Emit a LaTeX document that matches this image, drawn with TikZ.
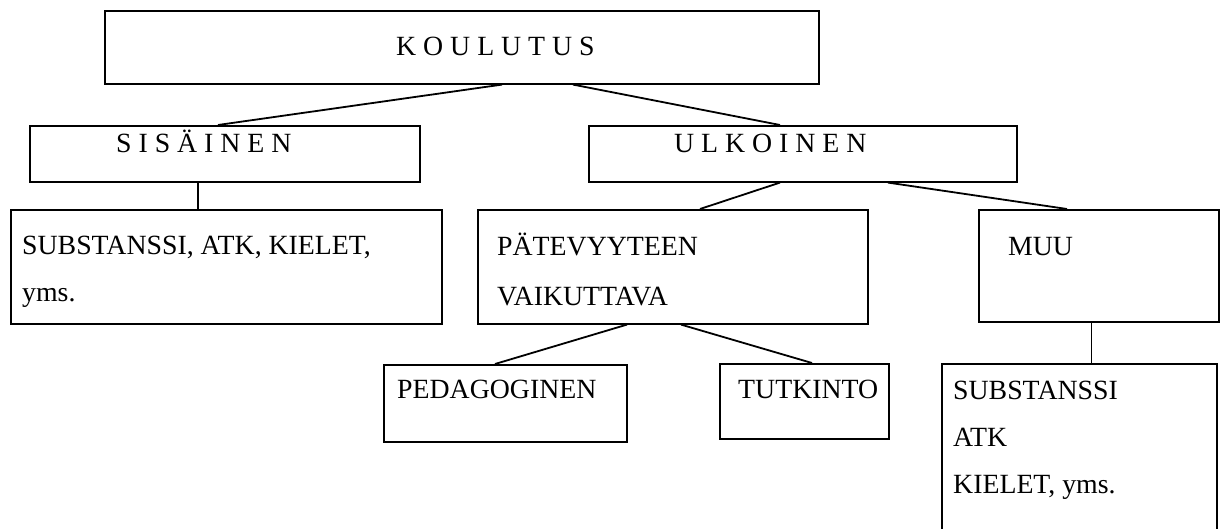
\documentclass[tikz,border=0pt]{standalone}
\usepackage{fontspec}
\setmainfont{Liberation Serif}
\usetikzlibrary{calc}
\begin{document}
\begin{tikzpicture}[x=1pt,y=-1pt,
  box/.style={draw=black, line width=1.6pt, rectangle, inner sep=0pt, anchor=north west},
  link/.style={draw=black, line width=1.8pt},
  txt/.style={inner sep=0pt, anchor=base west, font=\fontsize{27.8}{33}\selectfont}]
\useasboundingbox (0,0) rectangle (1221,529);
\clip (0,0) rectangle (1221,529);

% boxes
\node[box, minimum width=714pt, minimum height=73pt] (koulutus) at (104,10) {};
\node[box, minimum width=390pt, minimum height=56pt] (sisainen) at (29,125) {};
\node[box, minimum width=428pt, minimum height=56pt] (ulkoinen) at (588,125) {};
\node[box, minimum width=431pt, minimum height=114pt] (sisalto) at (10,209) {};
\node[box, minimum width=390pt, minimum height=114pt] (patev) at (477,209) {};
\node[box, minimum width=240pt, minimum height=112pt] (muu) at (978,209) {};
\node[box, minimum width=243pt, minimum height=77pt] (pedag) at (383,364) {};
\node[box, minimum width=169pt, minimum height=75pt] (tutk) at (719,363) {};
\node[box, minimum width=275pt, minimum height=180pt] (muusisalto) at (941,363) {};

% labels
\node[txt] (t1) at ([shift={(292,46)}]koulutus.north west) {K O U L U T U S};
\node[txt] (t2) at ([shift={(87,28)}]sisainen.north west) {S I S Ä I N E N};
\node[txt] (t3) at ([shift={(86,28)}]ulkoinen.north west) {U L K O I N E N};
\node[txt] (t4) at ([shift={(12,46)}]sisalto.north west) {SUBSTANSSI, ATK, KIELET,};
\node[txt] (t5) at ([shift={(12,93)}]sisalto.north west) {yms.};
\node[txt] (t6) at ([shift={(20,47)}]patev.north west) {PÄTEVYYTEEN};
\node[txt] (t7) at ([shift={(20,97)}]patev.north west) {VAIKUTTAVA};
\node[txt] (t8) at ([shift={(30,47)}]muu.north west) {MUU};
\node[txt] (t9) at ([shift={(14,34)}]pedag.north west) {PEDAGOGINEN};
\node[txt] (t10) at ([shift={(19,35)}]tutk.north west) {TUTKINTO};
\node[txt] (t11) at ([shift={(12,36)}]muusisalto.north west) {SUBSTANSSI};
\node[txt] (t12) at ([shift={(12,83)}]muusisalto.north west) {ATK};
\node[txt] (t13) at ([shift={(12,130)}]muusisalto.north west) {KIELET, yms.};

% connectors
\draw[link] ([xshift=398pt]koulutus.south west) -- ([xshift=189pt]sisainen.north west);
\draw[link] ([xshift=469pt]koulutus.south west) -- ([xshift=192pt]ulkoinen.north west);
\draw[link] ([xshift=169pt]sisainen.south west) -- ([xshift=188pt]sisalto.north west);
\draw[link] ([xshift=192pt]ulkoinen.south west) -- ([xshift=223pt]patev.north west);
\draw[link] ([xshift=300pt]ulkoinen.south west) -- ([xshift=89pt]muu.north west);
\draw[link] ([xshift=150pt]patev.south west) -- ([xshift=112pt]pedag.north west);
\draw[link] ([xshift=204pt]patev.south west) -- ([xshift=93pt]tutk.north west);
\draw[link, line width=1pt] ([xshift=113pt]muu.south west) -- ([xshift=150pt]muusisalto.north west);
\end{tikzpicture}
\end{document}
